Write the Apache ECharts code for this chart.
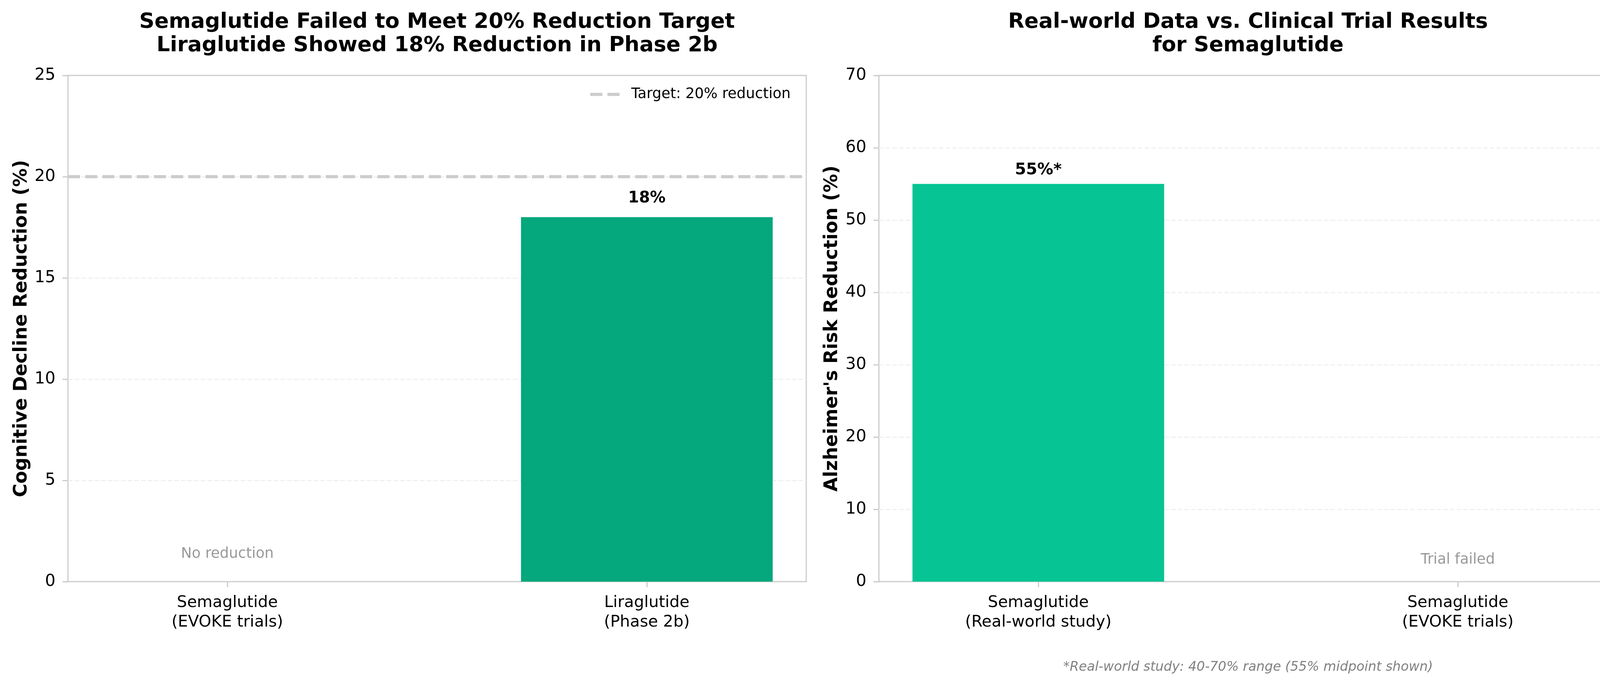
<!DOCTYPE html>
<html>
<head>
<meta charset="utf-8">
<script src="https://cdn.jsdelivr.net/npm/echarts@6/dist/echarts.min.js"></script>
<style>
html,body{margin:0;padding:0;background:#fff;}
#c{width:4171px;height:1755px;}
</style>
</head>
<body>
<div id="c"></div>
<script>
// ---------- data ----------
const leftCategories = ['Semaglutide\n(EVOKE trials)', 'Liraglutide\n(Phase 2b)'];
const leftValues = [0, 18];
const leftValueLabels = ['', '18%'];
const leftNotes = ['No reduction', ''];

const rightCategories = ['Semaglutide\n(Real-world study)', 'Semaglutide\n(EVOKE trials)'];
const rightValues = [55, 0];
const rightValueLabels = ['55%*', ''];
const rightNotes = ['', 'Trial failed'];

const targetValue = 20;
const targetName = 'Target: 20% reduction';

const leftTitle = 'Semaglutide Failed to Meet 20% Reduction Target\nLiraglutide Showed 18% Reduction in Phase 2b';
const rightTitle = 'Real-world Data vs. Clinical Trial Results\nfor Semaglutide';
const leftYName = 'Cognitive Decline Reduction (%)';
const rightYName = "Alzheimer's Risk Reduction (%)";
const footnote = '*Real-world study: 40-70% range (55% midpoint shown)';

const leftYMax = 25, leftYStep = 5;
const rightYMax = 70, rightYStep = 10;

// ---------- layout / style ----------
const W = 4171, H = 1755;
const FONT = 'DejaVu Sans';
const grids = [
  {left: 174, right: W - 2064, top: 193, bottom: H - 1488},
  {left: 2250, right: W - 4140, top: 193, bottom: H - 1488}
];
const xMin = -0.38, xMax = 1.38, barFrac = 0.6;
function barPx(g) { return barFrac * (W - g.left - g.right) / (xMax - xMin); }
const spine = '#cccccc';

function xAxisFor(i, cats) {
  return {
    type: 'value', gridIndex: i, min: xMin, max: xMax,
    splitLine: {show: false},
    axisLine: {show: false, onZero: false},
    axisTick: {show: true, customValues: [0, 1], length: 14, lineStyle: {color: spine, width: 3}},
    axisLabel: {
      customValues: [0, 1],
      formatter: v => cats[Math.round(v)] || '',
      fontSize: 41, lineHeight: 50, color: '#000', margin: 29, fontFamily: FONT
    }
  };
}
function yAxisFor(i, name, max, step, gap) {
  return {
    type: 'value', gridIndex: i, min: 0, max: max, interval: step,
    name: name, nameLocation: 'middle', nameGap: gap,
    nameTextStyle: {fontSize: 47.5, fontWeight: 'bold', color: '#000', fontFamily: FONT},
    axisLine: {show: false, onZero: false},
    axisTick: {show: true, length: 14, lineStyle: {color: spine, width: 3}},
    axisLabel: {fontSize: 42, color: '#000', margin: 32, fontFamily: FONT},
    splitLine: {show: true, showMinLine: false, showMaxLine: false,
                lineStyle: {color: '#eeeeee', width: 2.5, type: [12, 5]}}
  };
}
function notesSeries(i, notes, yPos) {
  return {
    type: 'scatter', xAxisIndex: i, yAxisIndex: i,
    symbolSize: 1, itemStyle: {color: 'rgba(0,0,0,0)'}, silent: true,
    data: notes.map((t, k) => [k, yPos]),
    label: {
      show: true, position: 'top', distance: 0,
      formatter: p => notes[p.dataIndex],
      fontSize: 37, color: '#808080', fontFamily: FONT
    }
  };
}

const option = {
  animation: false,
  backgroundColor: '#ffffff',
  textStyle: {fontFamily: FONT},
  title: [
    {text: leftTitle, left: 1119, top: 27, textAlign: 'center', padding: 0,
     textStyle: {fontSize: 54, fontWeight: 'bold', lineHeight: 60, color: '#000', fontFamily: FONT}},
    {text: rightTitle, left: 3195, top: 27, textAlign: 'center', padding: 0,
     textStyle: {fontSize: 54, fontWeight: 'bold', lineHeight: 60, color: '#000', fontFamily: FONT}},
    {text: footnote, left: 3195, top: 1690, textAlign: 'center', padding: 0,
     textStyle: {fontSize: 33.5, fontWeight: 'normal', fontStyle: 'italic', color: '#808080', fontFamily: FONT}}
  ],
  legend: {
    data: [targetName], left: 1511, top: 223, padding: 0,
    icon: 'path://M0,0 h31 v8 h-31 z M44,0 h31 v8 h-31 z',
    itemWidth: 77, itemHeight: 8, selectedMode: false,
    itemStyle: {color: spine},
    textStyle: {fontSize: 37, color: '#000', fontFamily: FONT, padding: [0, 0, 0, 24]}
  },
  grid: grids.map(g => Object.assign({show: true, borderColor: spine, borderWidth: 3, backgroundColor: 'transparent', containLabel: false}, g)),
  xAxis: [xAxisFor(0, leftCategories), xAxisFor(1, rightCategories)],
  yAxis: [yAxisFor(0, leftYName, leftYMax, leftYStep, 94), yAxisFor(1, rightYName, rightYMax, rightYStep, 95)],
  series: [
    {
      type: 'bar', xAxisIndex: 0, yAxisIndex: 0,
      data: leftValues.map((v, k) => [k, v]),
      barWidth: barPx(grids[0]),
      itemStyle: {color: '#05a77c'},
      label: {show: true, position: 'top', distance: 28,
              formatter: p => leftValueLabels[p.dataIndex],
              fontSize: 40, fontWeight: 'bold', color: '#000', fontFamily: FONT},
      markLine: {
        silent: true, symbol: ['none', 'none'], label: {show: false},
        lineStyle: {color: spine, width: 8, type: [31, 13]},
        data: [{yAxis: targetValue}]
      }
    },
    {
      type: 'line', name: targetName, xAxisIndex: 0, yAxisIndex: 0,
      data: [], symbol: 'none',
      lineStyle: {color: spine, width: 8, type: [31, 13]},
      itemStyle: {color: spine}
    },
    notesSeries(0, leftNotes, 1),
    {
      type: 'bar', xAxisIndex: 1, yAxisIndex: 1,
      data: rightValues.map((v, k) => [k, v]),
      barWidth: barPx(grids[1]),
      itemStyle: {color: '#06c494'},
      label: {show: true, position: 'top', distance: 15,
              formatter: p => rightValueLabels[p.dataIndex],
              fontSize: 41, fontWeight: 'bold', color: '#000', fontFamily: FONT}
    },
    notesSeries(1, rightNotes, 2)
  ]
};

const chart = echarts.init(document.getElementById('c'), null, {renderer: 'canvas', width: W, height: H});
chart.setOption(option);
</script>
</body>
</html>
